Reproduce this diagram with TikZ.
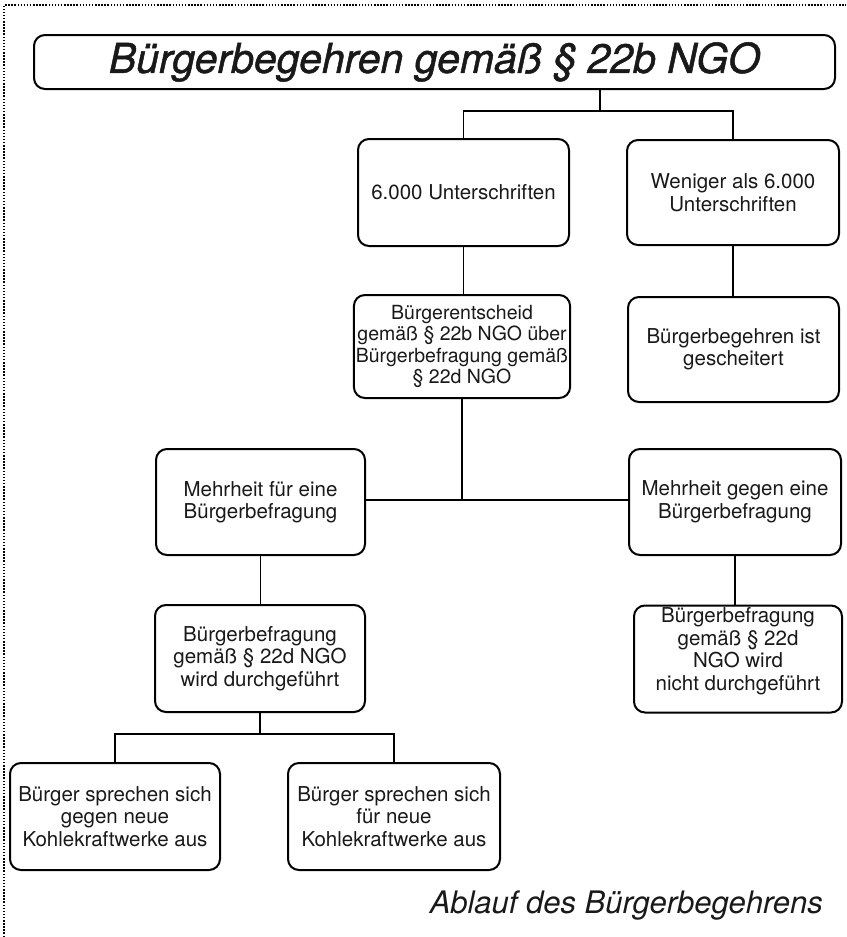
\documentclass[tikz,border=0pt]{standalone}
\usepackage{fontspec}
\setmainfont{TeX Gyre Heros}
\begin{document}
\begin{tikzpicture}[x=1pt,y=-1pt,
  box/.style={draw=black, line width=2pt, rounded corners=11pt, align=center,
    inner sep=2pt, text=black!90, font=\fontsize{20.5}{22.5}\selectfont},
  conn/.style={draw=black, line width=1.8pt},
  frame/.style={draw=black, line width=2pt, dash pattern=on 1.5pt off 1.6pt}]
\useasboundingbox (0,0) rectangle (846,937);
\fill[white] (0,0) rectangle (846,937);
% dotted frame
\draw[frame] (4,937) -- (4,5) -- (846,5);

% nodes
\node[box, minimum width=801pt, minimum height=54pt,
  font=\fontsize{41}{48}\selectfont\itshape\addfontfeature{FakeBold=1.2}] (title) at (434.5,62) {Bürgerbegehren gemäß § 22b NGO};

\node[box, minimum width=211pt, minimum height=107pt] (n6000) at (463.5,192.5) {6.000 Unterschriften};
\node[box, minimum width=212pt, minimum height=105pt] (nless) at (733,192.5) {Weniger als 6.000\\Unterschriften};

\node[box, minimum width=212pt, minimum height=103pt, font=\fontsize{19.5}{21.5}\selectfont] (nentsch) at (462,346.5)
  {Bürgerentscheid\\gemäß § 22b NGO über\\Bürgerbefragung gemäß\\§ 22d NGO};
\node[box, minimum width=211pt, minimum height=105pt] (nfail) at (733.5,349.5) {Bürgerbegehren ist\\gescheitert};

\node[box, minimum width=209pt, minimum height=106pt] (nfuer) at (260.5,502) {Mehrheit für eine\\Bürgerbefragung};
\node[box, minimum width=212pt, minimum height=106pt] (ngegen) at (735,502) {Mehrheit gegen eine\\Bürgerbefragung};

\node[box, minimum width=210pt, minimum height=107pt] (ndurch) at (260,658.5) {Bürgerbefragung\\gemäß § 22d NGO\\wird durchgeführt};
\node[box, minimum width=208pt, minimum height=106pt] (nnicht) at (738,659) {Bürgerbefragung\\gemäß § 22d\\NGO wird\\nicht durchgeführt\\[-2pt]};

\node[box, minimum width=210pt, minimum height=107pt] (nb1) at (115,816.5) {Bürger sprechen sich\\gegen neue\\Kohlekraftwerke aus};
\node[box, minimum width=212pt, minimum height=107pt] (nb2) at (394,816.5) {Bürger sprechen sich\\für neue\\Kohlekraftwerke aus};

\node[anchor=base east, inner sep=0pt, text=black!90, font=\fontsize{31}{36}\selectfont\itshape] (cap) at (823,913) {Ablauf des Bürgerbegehrens};

% connectors
\coordinate (j1) at (600,111);
\draw[conn] (title.south -| j1) -- (j1);
\draw[conn] (n6000.north) |- (j1) -| (nless.north);
\draw[conn] (n6000.south) -- (n6000.south |- nentsch.north);
\draw[conn] (nless.south) -- (nless.south |- nfail.north);

\coordinate (j2) at (462,500);
\draw[conn] (nentsch.south) -- (j2);
\draw[conn] (nfuer.east |- j2) -- (ngegen.west |- j2);

\draw[conn] (nfuer.south) -- (nfuer.south |- ndurch.north);
\draw[conn] (ngegen.south) -- (ngegen.south |- nnicht.north);

\coordinate (j3) at (260,734);
\draw[conn] (ndurch.south) -- (j3);
\draw[conn] (nb1.north) |- (j3) -| (nb2.north);
\end{tikzpicture}
\end{document}
